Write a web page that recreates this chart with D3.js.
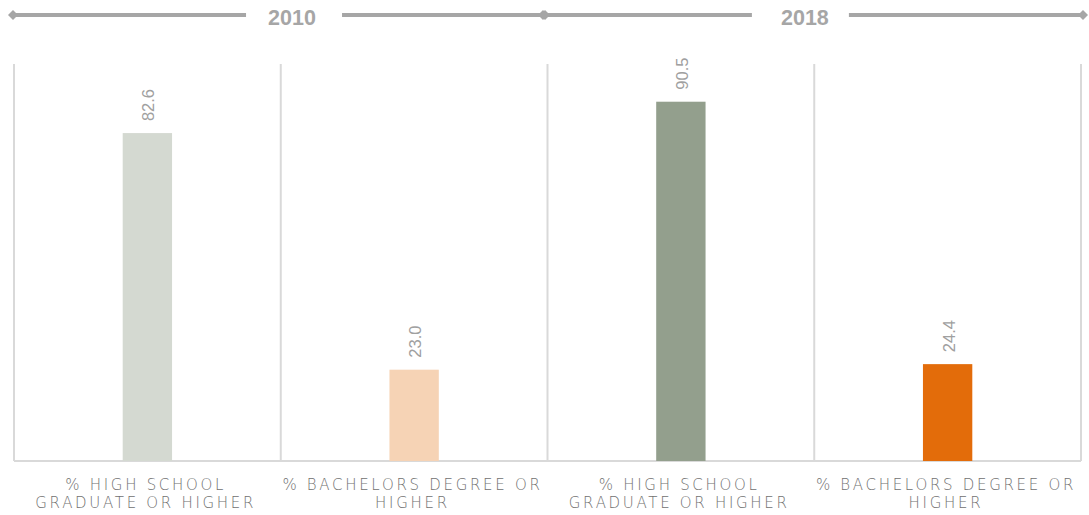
<!DOCTYPE html>
<html>
<head>
<meta charset="utf-8">
<script src="https://cdn.jsdelivr.net/npm/d3@7"></script>
<style>
  html, body { margin: 0; padding: 0; background: #fff; }
  svg { display: block; }
</style>
</head>
<body>
<svg id="chart" width="1089" height="515"></svg>
<script>
// Educational attainment, 2010 vs 2018
const years = ["2010", "2018"];
const categories = [
  ["% HIGH SCHOOL", "GRADUATE OR HIGHER"],
  ["% BACHELORS DEGREE OR", "HIGHER"],
  ["% HIGH SCHOOL", "GRADUATE OR HIGHER"],
  ["% BACHELORS DEGREE OR", "HIGHER"]
];
const barYears = ["2010", "2010", "2018", "2018"];
const values = [82.6, 23.0, 90.5, 24.4];
const colors = ["#d4d9d1", "#f6d3b5", "#939f8d", "#e36c0a"];

const svg = d3.select("#chart");
const plotLeft = 14, plotRight = 1081, plotTop = 64, plotBottom = 461;

const keys = categories.map((c, i) => i);
const x = d3.scaleBand().domain(keys).range([plotLeft, plotRight]).padding(0);
const y = d3.scaleLinear().domain([0, 100]).range([plotBottom, plotTop]);
const barW = x.bandwidth() * 0.185;
const mid = i => x(i) + x.bandwidth() / 2;

// vertical separators between categories
const bounds = keys.map(k => x(k)).concat([plotRight]);
svg.append("g").selectAll("line").data(bounds).join("line")
  .attr("x1", d => d).attr("x2", d => d)
  .attr("y1", plotTop).attr("y2", plotBottom)
  .attr("stroke", "#d9d9d9").attr("stroke-width", 2);

// baseline
svg.append("line")
  .attr("x1", plotLeft).attr("x2", plotRight)
  .attr("y1", y(0)).attr("y2", y(0))
  .attr("stroke", "#d9d9d9").attr("stroke-width", 2);

// bars
svg.append("g").selectAll("rect").data(values).join("rect")
  .attr("x", (d, i) => mid(i) - barW / 2)
  .attr("y", d => y(d))
  .attr("width", barW)
  .attr("height", d => y(0) - y(d))
  .attr("fill", (d, i) => colors[i]);

// value labels, rotated
svg.append("g").selectAll("text").data(values).join("text")
  .attr("transform", (d, i) => `translate(${mid(i) + 7},${y(d) - 12}) rotate(-90)`)
  .attr("text-anchor", "start")
  .attr("font-family", "'Liberation Sans', Arial, sans-serif")
  .attr("font-size", 16.5)
  .attr("fill", "#a0a0a0")
  .text(d => d.toFixed(1));

// category labels
const ls = 2.7;
const catG = svg.append("g").selectAll("text").data(categories).join("text")
  .attr("text-anchor", "middle")
  .attr("font-family", "'DejaVu Sans', sans-serif")
  .attr("font-weight", 300)
  .attr("font-size", 15)
  .attr("letter-spacing", ls)
  .attr("fill", "#707070");
catG.each(function(lines, i) {
  const t = d3.select(this);
  lines.forEach((ln, j) => {
    t.append("tspan")
      .attr("x", mid(i) - 3 + ls / 2)
      .attr("y", 490 + j * 18)
      .text(ln);
  });
});

// year headers with diamond-tipped rules
const headerLabelPos = [0.5245, 0.485]; // label position along each year's span
const headerGaps = [[46, 50], [53, 44]];
const yearSpan = years.map((yr, k) => {
  const idx = barYears.map((b, i) => b === yr ? i : -1).filter(i => i >= 0);
  const x0 = x(idx[0]) - (k === 0 ? 1 : 4.5);
  const x1 = x(idx[idx.length - 1]) + x.bandwidth() + (k === 0 ? -2.5 : 2);
  return { yr, x0, x1 };
});
const hy = 15;
const hg = svg.append("g");
yearSpan.forEach((s, i) => {
  const cx = s.x0 + headerLabelPos[i] * (s.x1 - s.x0);
  hg.append("line").attr("x1", s.x0).attr("x2", cx - headerGaps[i][0])
    .attr("y1", hy).attr("y2", hy).attr("stroke", "#a6a6a6").attr("stroke-width", 4);
  hg.append("line").attr("x1", cx + headerGaps[i][1]).attr("x2", s.x1)
    .attr("y1", hy).attr("y2", hy).attr("stroke", "#a6a6a6").attr("stroke-width", 4);
  [s.x0, s.x1].forEach(px => {
    hg.append("path")
      .attr("d", `M${px - 5},${hy} L${px},${hy - 5} L${px + 5},${hy} L${px},${hy + 5} Z`)
      .attr("fill", "#a6a6a6");
  });
  hg.append("text")
    .attr("x", cx).attr("y", 25)
    .attr("text-anchor", "middle")
    .attr("font-family", "'Liberation Sans', Arial, sans-serif")
    .attr("font-weight", "bold")
    .attr("font-size", 21.5)
    .attr("fill", "#a6a6a6")
    .text(s.yr);
});
</script>
</body>
</html>
